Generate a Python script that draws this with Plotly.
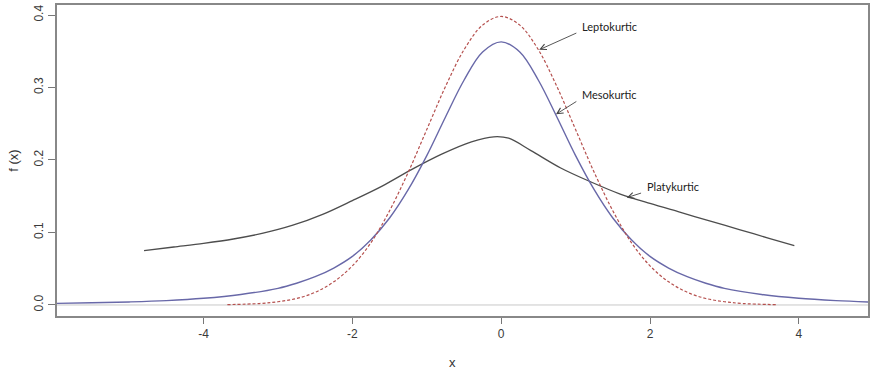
import plotly.graph_objects as go

# Platykurtic curve (dark grey, solid)
platy_x = [-4.80, -4.40, -4.00, -3.60, -3.20, -2.80, -2.40, -2.00, -1.60, -1.20,
           -0.80, -0.40, -0.10, 0.10, 0.40, 0.80, 1.20, 1.60, 2.00, 2.40,
           2.80, 3.20, 3.60, 3.94]
platy_y = [0.075, 0.080, 0.085, 0.091, 0.099, 0.110, 0.125, 0.144, 0.164, 0.187,
           0.208, 0.225, 0.232, 0.230, 0.213, 0.189, 0.170, 0.153, 0.140, 0.128,
           0.116, 0.104, 0.092, 0.082]

# Mesokurtic curve (slate blue, solid)
meso_x = [-5.97, -5.50, -5.00, -4.50, -4.00, -3.50, -3.00, -2.75, -2.50, -2.25,
          -2.00, -1.75, -1.50, -1.25, -1.00, -0.75, -0.50, -0.25, 0.00, 0.25,
          0.50, 0.75, 1.00, 1.25, 1.50, 1.75, 2.00, 2.25, 2.50, 2.75,
          3.00, 3.50, 4.00, 4.50, 4.93]
meso_y = [0.0022, 0.003, 0.0042, 0.006, 0.0092, 0.0145, 0.023, 0.030, 0.039, 0.051,
          0.067, 0.090, 0.120, 0.159, 0.206, 0.259, 0.310, 0.349, 0.363, 0.349,
          0.310, 0.259, 0.206, 0.159, 0.120, 0.090, 0.067, 0.051, 0.039, 0.030,
          0.023, 0.0145, 0.0092, 0.006, 0.0042]

# Leptokurtic curve (red, dashed)
lepto_x = [-3.68, -3.25, -3.00, -2.75, -2.50, -2.25, -2.00, -1.75, -1.50, -1.25,
           -1.00, -0.75, -0.50, -0.25, 0.00, 0.25, 0.50, 0.75, 1.00, 1.25,
           1.50, 1.75, 2.00, 2.25, 2.50, 2.75, 3.00, 3.25, 3.71]
lepto_y = [0.0005, 0.002, 0.0045, 0.009, 0.0175, 0.032, 0.054, 0.086, 0.130, 0.183,
           0.242, 0.301, 0.352, 0.386, 0.398, 0.386, 0.352, 0.301, 0.242, 0.183,
           0.130, 0.086, 0.054, 0.032, 0.0175, 0.009, 0.0045, 0.002, 0.0004]

x_ticks = [-4, -2, 0, 2, 4]
y_ticks = [0.0, 0.1, 0.2, 0.3, 0.4]
y_tick_text = ["0.0", "0.1", "0.2", "0.3", "0.4"]

x_range = [-5.97, 4.93]
y_range = [-0.0152, 0.4138]

fig = go.Figure()

# baseline at f(x) = 0
fig.add_trace(go.Scatter(x=x_range, y=[0, 0], mode="lines",
                         line=dict(color="#c8c8c8", width=1), hoverinfo="skip"))

fig.add_trace(go.Scatter(x=platy_x, y=platy_y, mode="lines", name="Platykurtic",
                         line=dict(color="#4d4d4d", width=1.3, shape="spline", smoothing=0.9)))
fig.add_trace(go.Scatter(x=meso_x, y=meso_y, mode="lines", name="Mesokurtic",
                         line=dict(color="#6868a8", width=1.4, shape="spline", smoothing=1.0)))
fig.add_trace(go.Scatter(x=lepto_x, y=lepto_y, mode="lines", name="Leptokurtic",
                         line=dict(color="#b5504e", width=1.2, dash="3px,2px",
                                   shape="spline", smoothing=1.0)))

label_font = dict(family="Lato, Liberation Sans, sans-serif", size=11, color="#222222")

# (label, arrow tip, arrow tail)
labels = [
    ("Leptokurtic", (0.51, 0.352), (1.03, 0.376)),
    ("Mesokurtic", (0.736, 0.263), (1.03, 0.282)),
    ("Platykurtic", (1.687, 0.148), (1.90, 0.155)),
]
for text, (tx, ty), (ax, ay) in labels:
    fig.add_annotation(x=tx, y=ty, ax=ax, ay=ay, xref="x", yref="y",
                       axref="x", ayref="y", text="", showarrow=True,
                       arrowhead=5, arrowsize=1.3, arrowwidth=0.9,
                       arrowcolor="#444444")
    fig.add_annotation(x=ax + 0.03, y=ay + 0.008, xref="x", yref="y", text=text,
                       showarrow=False, xanchor="left", yanchor="middle",
                       font=label_font)

# axis titles
fig.add_annotation(x=0.488, y=-0.149, xref="paper", yref="paper", text="x",
                   showarrow=False, xanchor="center", yanchor="middle",
                   font=dict(family="Liberation Sans, Arial, sans-serif", size=13, color="#333333"))
fig.add_annotation(x=-0.054, y=0.5, xref="paper", yref="paper", text="f (x)",
                   showarrow=False, textangle=-90, xanchor="center", yanchor="middle",
                   font=dict(family="Liberation Sans, Arial, sans-serif", size=13, color="#333333"))

tick_font = dict(family="Liberation Sans, Arial, sans-serif", size=12, color="#3a3a3a")

fig.update_xaxes(range=x_range, tickmode="array", tickvals=x_ticks,
                 ticktext=[f"{v}" for v in x_ticks],
                 showgrid=False, zeroline=False, ticks="outside", ticklen=6,
                 tickwidth=1, tickcolor="#777777", tickfont=tick_font,
                 showline=True, linecolor="#888888", linewidth=1.5, mirror=True)
fig.update_yaxes(range=y_range, tickmode="array", tickvals=y_ticks,
                 ticktext=y_tick_text, tickangle=-90,
                 showgrid=False, zeroline=False, ticks="outside", ticklen=7,
                 tickwidth=1, tickcolor="#777777", tickfont=tick_font,
                 showline=True, linecolor="#888888", linewidth=1.5, mirror=True)

fig.update_layout(width=871, height=372, showlegend=False,
                  margin=dict(l=57, r=1, t=5, b=56),
                  paper_bgcolor="white", plot_bgcolor="white")

fig.write_html("out.html")
